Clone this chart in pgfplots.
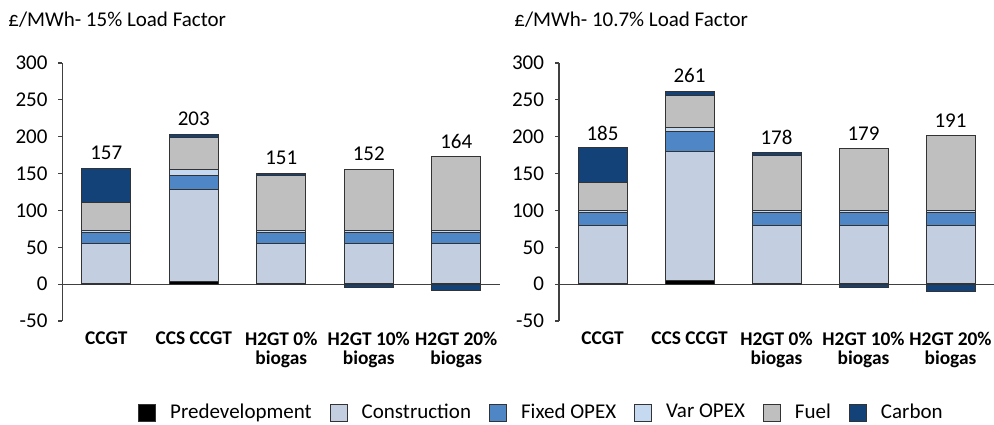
\documentclass[border=0pt]{standalone}
\usepackage{pgfplots}
\pgfplotsset{compat=1.18}
\usepackage{fontspec}
\setmainfont{Carlito}
\definecolor{cPre}{RGB}{0,0,0}
\definecolor{cCon}{RGB}{196,206,225}
\definecolor{cFix}{RGB}{79,135,198}
\definecolor{cVar}{RGB}{197,217,241}
\definecolor{cFuel}{RGB}{191,191,191}
\definecolor{cCarb}{RGB}{19,66,121}
\newcommand{\tfont}{\fontsize{10.5}{12}\selectfont}
\pgfplotsset{
  base/.style={
    scale only axis, height=129pt,
    xmin=-0.5, xmax=4.5, ymin=-50, ymax=300,
    ybar stacked, bar width=24.5pt,
    axis y line=left, axis x line=bottom,
    x axis line style={draw=none},
    y axis line style={-, draw=black!75, line width=0.6pt},
    xtick={0,...,4}, xtick style={draw=none},
    xticklabels={CCGT, CCS CCGT, {H2GT 0\%\\biogas}, {H2GT 10\%\\biogas}, {H2GT 20\%\\biogas}},
    xticklabel style={font=\bfseries\fontsize{9.7}{9.5}\selectfont, align=center, yshift=0pt},
    ytick={-50,0,50,100,150,200,250,300},
    ytick style={draw=black!75, line width=0.6pt},
    tick align=outside, major tick length=2pt,
    yticklabel style={font=\tfont, xshift=-2pt},
    /pgf/number format/assume math mode=true,
    clip=false,
  },
  bs/.style={fill=#1, draw=black!80, line width=0.5pt,
    legend image code/.code={\draw[##1] (0pt,-4.25pt) rectangle (8.5pt,4.25pt);}},
}
\begin{document}
\begin{tikzpicture}
\path[use as bounding box] (0,0) rectangle (497pt,-212pt);
\node[anchor=west, font=\tfont, inner sep=0pt] at (4pt,-10pt) {£/MWh- 15\% Load Factor};
\node[anchor=west, font=\tfont, inner sep=0pt] at (257pt,-10pt) {£/MWh- 10.7\% Load Factor};
% ---------- left ----------
\begin{axis}[base, width=218.75pt, at={(31.25pt,-160.5pt)}, anchor=south west,
  legend columns=6,
  legend style={at={(1.097,-0.355)}, anchor=center, draw=none, fill=none, font=\tfont,
    /tikz/every odd column/.append style={column sep=5pt},
    /tikz/every even column/.append style={column sep=7pt}},
]
\addplot[bs=cPre]  coordinates {(0,1.5) (1,4) (2,1.5) (3,1.5) (4,1.5)};
\addplot[bs=cCon]  coordinates {(0,54) (1,124.5) (2,54) (3,54) (4,54)};
\addplot[bs=cFix]  coordinates {(0,15) (1,18.5) (2,15) (3,15) (4,15)};
\addplot[bs=cVar]  coordinates {(0,2.5) (1,9) (2,2.5) (3,2.5) (4,2.5)};
\addplot[bs=cFuel] coordinates {(0,37.5) (1,43) (2,75) (3,83) (4,100)};
\addplot[bs=cCarb] coordinates {(0,46) (1,4) (2,2.5) (3,0) (4,0)};
\legend{Predevelopment, Construction, Fixed OPEX, Var OPEX, Fuel, Carbon}
\draw[black!75, line width=0.6pt] (axis cs:-0.5,0) -- (axis cs:4.5,0);
\node[font=\tfont] at (axis cs:0,178) {157};
\node[font=\tfont] at (axis cs:1,224) {203};
\node[font=\tfont] at (axis cs:2,171) {151};
\node[font=\tfont] at (axis cs:3,177) {152};
\node[font=\tfont] at (axis cs:4,194) {164};
\end{axis}
\begin{axis}[base, width=218.75pt, at={(31.25pt,-160.5pt)}, anchor=south west, hide axis]
\addplot[bs=cCarb] coordinates {(3,-4) (4,-9)};
\end{axis}
% ---------- right ----------
\begin{axis}[base, width=217.5pt, at={(279.5pt,-160.5pt)}, anchor=south west]
\addplot[bs=cPre]  coordinates {(0,1.5) (1,5) (2,1.5) (3,1.5) (4,1.5)};
\addplot[bs=cCon]  coordinates {(0,77.5) (1,174.5) (2,77.5) (3,77.5) (4,77.5)};
\addplot[bs=cFix]  coordinates {(0,18.5) (1,27) (2,18.5) (3,18.5) (4,18.5)};
\addplot[bs=cVar]  coordinates {(0,2.5) (1,6) (2,2.5) (3,2.5) (4,2.5)};
\addplot[bs=cFuel] coordinates {(0,38) (1,43) (2,75) (3,84) (4,101)};
\addplot[bs=cCarb] coordinates {(0,47) (1,6) (2,3) (3,0) (4,0)};
\draw[black!75, line width=0.6pt] (axis cs:-0.5,0) -- (axis cs:4.5,0);
\node[font=\tfont] at (axis cs:0,205) {185};
\node[font=\tfont] at (axis cs:1,283) {261};
\node[font=\tfont] at (axis cs:2,199) {178};
\node[font=\tfont] at (axis cs:3,204) {179};
\node[font=\tfont] at (axis cs:4,222) {191};
\end{axis}
\begin{axis}[base, width=217.5pt, at={(279.5pt,-160.5pt)}, anchor=south west, hide axis]
\addplot[bs=cCarb] coordinates {(3,-5) (4,-10)};
\end{axis}
\end{tikzpicture}
\end{document}
